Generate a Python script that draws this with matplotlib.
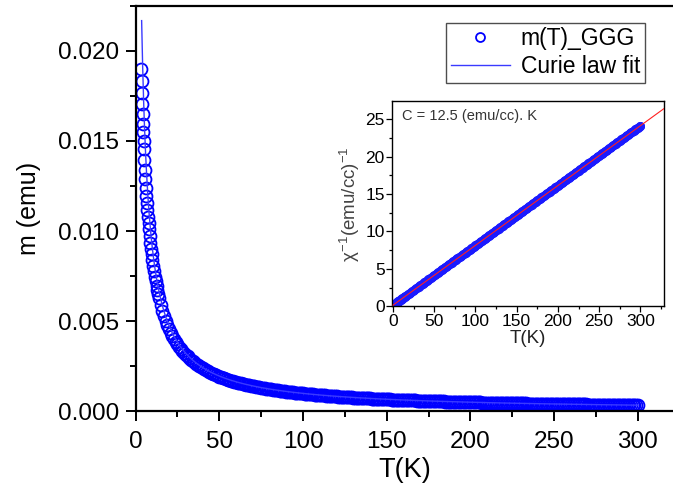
import numpy as np
import matplotlib
matplotlib.use("Agg")
import matplotlib.pyplot as plt
from matplotlib.ticker import MultipleLocator, FormatStrFormatter

plt.rcParams["font.family"] = ["Liberation Sans", "DejaVu Sans"]
plt.rcParams["mathtext.fontset"] = "custom"
plt.rcParams["mathtext.rm"] = "Liberation Sans"
plt.rcParams["mathtext.it"] = "Liberation Sans"

# Measured temperatures (K), first sweep
temperature = [
    3.4, 3.6, 3.8, 4.0, 4.2, 4.4, 4.6, 4.8, 5.0, 5.3, 5.6, 5.9, 6.2, 6.5, 6.8,
    7.1, 7.4, 7.7, 8.0, 8.4, 8.8, 9.2, 9.6, 10, 10.5, 11, 11.5, 12, 12.5, 13,
    13.5, 14, 15, 16, 17, 18, 19, 20, 21, 22, 23, 24, 25, 26, 27, 28, 29, 30,
    32, 34, 36, 38, 40,
    42, 44, 46, 48, 50, 52, 54, 56, 58, 60, 62, 64, 66, 68, 70, 72, 74, 76,
    78, 80, 82, 84, 86, 88, 90, 92, 94, 96, 98, 100, 102, 104, 106, 108, 110,
    112, 114, 116, 118, 120, 122, 124, 126, 128, 130, 132, 134, 136, 138, 140,
    142, 144, 146, 148, 150, 152, 154, 156, 158, 160, 162, 164, 166, 168, 170,
    172, 174, 176, 178, 180, 182, 184, 186, 188, 190, 192, 194, 196, 198, 200,
    202, 204, 206, 208, 210, 212, 214, 216, 218, 220, 222, 224, 226, 228, 230,
    232, 234, 236, 238, 240, 242, 244, 246, 248, 250, 252, 254, 256, 258, 260,
    262, 264, 266, 268, 270, 272, 274, 276, 278, 280, 282, 284, 286, 288, 290,
    292, 294, 296, 298, 300,
]

# Magnetic moment for the first sweep, in units of 1e-4 emu
moment_1e4 = [
    190.1, 183.1, 176.6, 170.5, 164.9, 159.6, 154.7, 150.0, 145.6, 139.5,
    133.9, 128.7, 123.9, 119.4, 115.3, 111.4, 107.8, 104.4, 101.2, 97.3,
    93.6, 90.2, 87.1, 84.1, 80.7, 77.6, 74.7, 72.0, 69.5, 67.1, 64.9, 62.9,
    59.1, 55.8, 52.9, 50.2, 47.8, 45.6, 43.6, 41.8, 40.1, 38.5, 37.1, 35.8,
    34.5, 33.4, 32.3, 31.3, 29.4, 27.8, 26.3, 25.0, 23.8,
    22.72, 21.73, 20.82, 19.98, 19.21, 18.50, 17.84, 17.22, 16.64, 16.11,
    15.60, 15.13, 14.68, 14.26, 13.86, 13.49, 13.13, 12.80, 12.47, 12.17,
    11.88, 11.60, 11.34, 11.09, 10.84, 10.61, 10.39, 10.18, 9.976, 9.780,
    9.592, 9.410, 9.236, 9.068, 8.906, 8.749, 8.598, 8.452, 8.311, 8.175,
    8.043, 7.915, 7.791, 7.671, 7.555, 7.442, 7.332, 7.226, 7.122, 7.022,
    6.924, 6.829, 6.737, 6.647, 6.560, 6.474, 6.391, 6.310, 6.231, 6.154,
    6.079, 6.006, 5.934, 5.864, 5.796, 5.729, 5.664, 5.601, 5.538, 5.477,
    5.418, 5.359, 5.302, 5.247, 5.192, 5.138, 5.086, 5.034, 4.984, 4.935,
    4.886, 4.839, 4.792, 4.746, 4.702, 4.658, 4.614, 4.572, 4.531, 4.490,
    4.450, 4.410, 4.372, 4.334, 4.296, 4.260, 4.223, 4.188, 4.153, 4.118,
    4.085, 4.051, 4.019, 3.987, 3.955, 3.924, 3.893, 3.863, 3.833, 3.804,
    3.775, 3.747, 3.719, 3.691, 3.664, 3.637, 3.611, 3.585, 3.559, 3.534,
    3.509, 3.485, 3.460, 3.436, 3.413, 3.390, 3.367, 3.344, 3.322, 3.300,
]

# Second sweep, odd temperatures (K)
temperature_odd = [
    31, 33, 35, 37, 39,
    41, 43, 45, 47, 49, 51, 53, 55, 57, 59, 61, 63, 65, 67, 69, 71, 73, 75,
    77, 79, 81, 83, 85, 87, 89, 91, 93, 95, 97, 99, 101, 103, 105, 107, 109,
    111, 113, 115, 117, 119, 121, 123, 125, 127, 129, 131, 133, 135, 137, 139,
    141, 143, 145, 147, 149, 151, 153, 155, 157, 159, 161, 163, 165, 167, 169,
    171, 173, 175, 177, 179, 181, 183, 185, 187, 189, 191, 193, 195, 197, 199,
    201, 203, 205, 207, 209, 211, 213, 215, 217, 219, 221, 223, 225, 227, 229,
    231, 233, 235, 237, 239, 241, 243, 245, 247, 249, 251, 253, 255, 257, 259,
    261, 263, 265, 267, 269, 271, 273, 275, 277, 279, 281, 283, 285, 287, 289,
    291, 293, 295, 297, 299,
]

# Magnetic moment for the second sweep, in units of 1e-4 emu
moment_odd_1e4 = [
    30.33, 28.59, 27.04, 25.64, 24.39,
    23.25, 22.21, 21.26, 20.39, 19.59, 18.85, 18.16, 17.52, 16.93, 16.37,
    15.85, 15.36, 14.90, 14.47, 14.06, 13.67, 13.31, 12.96, 12.63, 12.32,
    12.02, 11.74, 11.47, 11.21, 10.96, 10.73, 10.50, 10.29, 10.08, 9.877,
    9.685, 9.500, 9.322, 9.151, 8.986, 8.827, 8.673, 8.525, 8.381, 8.242,
    8.108, 7.978, 7.853, 7.731, 7.612, 7.498, 7.387, 7.279, 7.174, 7.072,
    6.973, 6.877, 6.783, 6.692, 6.603, 6.517, 6.432, 6.350, 6.270, 6.193,
    6.116, 6.042, 5.970, 5.899, 5.830, 5.763, 5.697, 5.632, 5.569, 5.508,
    5.447, 5.388, 5.331, 5.274, 5.219, 5.165, 5.112, 5.060, 5.009, 4.959,
    4.910, 4.862, 4.815, 4.769, 4.724, 4.680, 4.636, 4.593, 4.551, 4.510,
    4.470, 4.430, 4.391, 4.353, 4.315, 4.278, 4.241, 4.205, 4.170, 4.136,
    4.102, 4.068, 4.035, 4.003, 3.971, 3.939, 3.908, 3.878, 3.848, 3.818,
    3.789, 3.761, 3.733, 3.705, 3.677, 3.650, 3.624, 3.598, 3.572, 3.547,
    3.521, 3.497, 3.472, 3.448, 3.425, 3.401, 3.378, 3.355, 3.333, 3.311,
]

# Curie-law fit parameters for m(T)
C_FIT = 0.0993        # emu K
THETA_FIT = -0.98     # K
FIT_T_MIN = 3.6       # K
# Inverse susceptibility fit
C_VOLUME = 12.5       # (emu/cc) K
THETA_CHI = -1.84     # K
MOMENT_PER_CHI = 0.00797  # emu per (emu/cc): applied field x sample volume

T = np.concatenate([temperature, temperature_odd]).astype(float)
m = np.concatenate([moment_1e4, moment_odd_1e4]) * 1e-4
order = np.argsort(T)
T, m = T[order], m[order]
chi_inv = MOMENT_PER_CHI / m

fig = plt.figure(figsize=(6.73, 4.90), dpi=100)
ax = fig.add_axes([0.2015, 0.161, 0.7985, 0.827])

ax.plot(T, m, linestyle="none", marker="o", ms=8.6, mfc="none",
        mec="#0000ff", mew=1.3, label="m(T)_GGG", zorder=2)
T_fit = np.concatenate([[FIT_T_MIN], T[T > FIT_T_MIN]])
ax.plot(T_fit, C_FIT / (T_fit - THETA_FIT), color="#3a3aff", lw=1.0,
        label="Curie law fit", zorder=3)

ax.set_xlim(0, 321)
ax.set_ylim(0, 0.0225)
ax.xaxis.set_major_locator(MultipleLocator(50))
ax.xaxis.set_minor_locator(MultipleLocator(25))
ax.yaxis.set_major_locator(MultipleLocator(0.005))
ax.yaxis.set_minor_locator(MultipleLocator(0.0025))
ax.yaxis.set_major_formatter(FormatStrFormatter("%.3f"))
ax.spines["right"].set_visible(False)
for s in ("left", "bottom", "top"):
    ax.spines[s].set_linewidth(1.6)
ax.tick_params(which="both", direction="out", width=1.4, labelsize=17.5,
               top=False, right=False)
ax.tick_params(axis="y", which="major", pad=5)
ax.tick_params(axis="x", which="major", pad=7)
ax.tick_params(which="major", length=7)
ax.tick_params(which="minor", length=4)
ax.set_xlabel("T(K)", fontsize=19.5, labelpad=3)
ax.set_ylabel("m (emu)", fontsize=18, labelpad=12)

leg = ax.legend(loc="upper right", bbox_to_anchor=(0.947, 0.958),
                fontsize=16.5, frameon=True, fancybox=False, borderpad=0.2,
                handlelength=2.6, handletextpad=0.45, labelspacing=0.2,
                borderaxespad=0, markerscale=0.75)
leg.get_frame().set_edgecolor("#222222")
leg.get_frame().set_linewidth(1.0)

# Inset: inverse susceptibility
ins = fig.add_axes([0.583, 0.375, 0.404, 0.418])
ins.plot(T, chi_inv, linestyle="none", marker="o", ms=5, mfc="none",
         mec="#1a1aff", mew=1.5, zorder=2)
T_line = np.array([0.0, 330.0])
ins.plot(T_line, (T_line - THETA_CHI) / C_VOLUME, color="#ff2020", lw=0.8,
         zorder=3)
ins.set_xlim(-0.8, 329)
ins.set_ylim(0, 27.4)
ins.xaxis.set_major_locator(MultipleLocator(50))
ins.xaxis.set_minor_locator(MultipleLocator(25))
ins.yaxis.set_major_locator(MultipleLocator(5))
ins.yaxis.set_minor_locator(MultipleLocator(2.5))
for s in ins.spines.values():
    s.set_linewidth(1.0)
ins.tick_params(which="both", direction="out", width=0.9, labelsize=12.5,
                top=False, right=False, pad=1.5)
ins.tick_params(which="major", length=4)
ins.tick_params(which="minor", length=2.5)
ins.set_xlabel("T(K)", fontsize=13.5, labelpad=1, color="#222222")
ins.set_ylabel(r"$\chi^{-1}$(emu/cc)$^{-1}$", fontsize=13.5, labelpad=2,
               color="#444444")
ins.text(0.035, 0.93, "C = 12.5 (emu/cc). K", transform=ins.transAxes,
         fontsize=10.5, color="#333333", va="center", ha="left")

fig.savefig("out.png", dpi=100)
